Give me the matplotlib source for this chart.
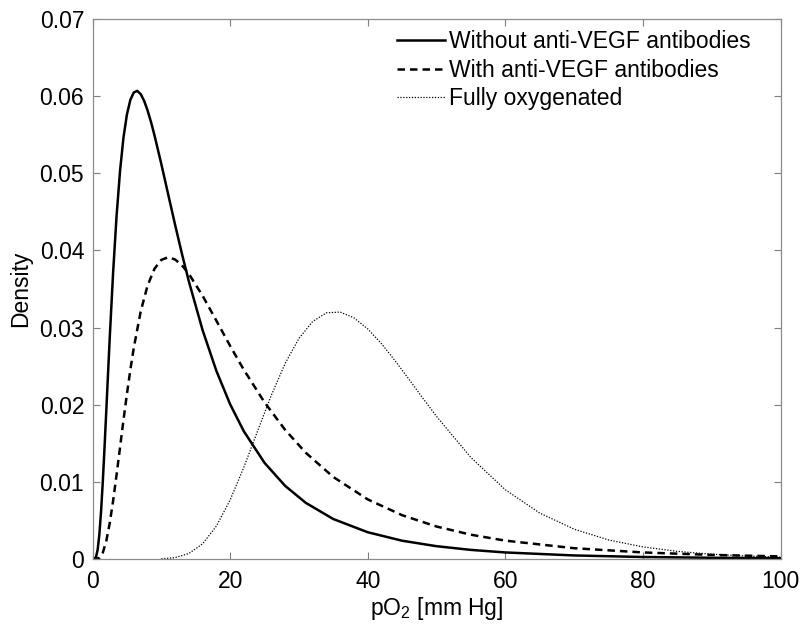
import matplotlib
matplotlib.use("Agg")
import matplotlib.pyplot as plt

plt.rcParams['font.family'] = ['Liberation Sans', 'DejaVu Sans']
plt.rcParams['mathtext.fontset'] = 'custom'
plt.rcParams['mathtext.rm'] = 'Liberation Sans'

# Without anti-VEGF antibodies (solid)
x_without = [0, 0.5, 0.75, 1, 1.25, 1.5, 1.75, 2, 2.5, 3, 3.5, 4, 4.5, 5, 5.5, 6, 6.5, 7,
             7.5, 8, 8.5, 9, 10, 11, 12, 13, 14, 16, 18, 20, 22, 25, 28, 31, 35, 40, 45,
             50, 55, 60, 70, 80, 90, 100]
y_without = [0, 0.0002, 0.00121, 0.00322, 0.00625, 0.01009, 0.01448, 0.01916, 0.02858,
             0.0372, 0.04449, 0.05028, 0.05461, 0.05761, 0.05951, 0.06048, 0.06068,
             0.06027, 0.0594, 0.05816, 0.05666, 0.05496, 0.05121, 0.04727, 0.04334,
             0.03956, 0.036, 0.02967, 0.0244, 0.02007, 0.01655, 0.01247, 0.00948,
             0.00728, 0.00518, 0.00347, 0.00237, 0.00166, 0.00118, 0.00085, 0.00046,
             0.00026, 0.00016, 0.0001]

# With anti-VEGF antibodies (dashed)
x_with = [0, 0.5, 1, 1.5, 2, 2.5, 3, 3.5, 4, 4.5, 5, 5.5, 6, 7, 8, 9, 10, 11, 12, 13,
          14, 16, 18, 20, 22, 25, 28, 31, 35, 40, 45, 50, 55, 60, 70, 80, 90, 100]
y_with = [0, 0.0, 0.000146, 0.000824, 0.00232, 0.004625, 0.00757, 0.01093, 0.01445,
          0.01799, 0.02137, 0.02451, 0.02737, 0.03207, 0.03544, 0.03761, 0.03877,
          0.03912, 0.03883, 0.03807, 0.03697, 0.03413, 0.0309, 0.02763, 0.02452,
          0.02031, 0.01674, 0.01377, 0.01063, 0.00773, 0.00568, 0.00421, 0.00315,
          0.00238, 0.0014, 0.00085, 0.00053, 0.00034]

# Fully oxygenated (dotted)
x_oxy = [10, 12, 14, 16, 18, 20, 22, 24, 26, 28, 30, 32, 34, 36, 38, 40, 42, 44, 46,
         48, 50, 55, 60, 65, 70, 75, 80, 85, 90, 95, 100]
y_oxy = [0.000026, 0.000178, 0.000708, 0.00197, 0.00426, 0.00764, 0.0119, 0.0166,
         0.02124, 0.02535, 0.02859, 0.03079, 0.03191, 0.03201, 0.03126, 0.02983,
         0.02791, 0.02568, 0.0233, 0.02086, 0.01849, 0.01316, 0.00898, 0.00596,
         0.00387, 0.00247, 0.00157, 0.00099, 0.00062, 0.00039, 0.00024]

labels = ['Without anti-VEGF antibodies', 'With anti-VEGF antibodies', 'Fully oxygenated']
x_ticks = [0, 20, 40, 60, 80, 100]
y_ticks = [0, 0.01, 0.02, 0.03, 0.04, 0.05, 0.06, 0.07]
y_ticklabels = ['0', '0.01', '0.02', '0.03', '0.04', '0.05', '0.06', '0.07']

W, H = 801, 628
fig = plt.figure(figsize=(W / 100, H / 100), dpi=100)
ax = fig.add_axes([92.5 / W, (H - 559) / H, (780.5 - 92.5) / W, (559 - 19) / H])

fs = 16.5
ax.plot(x_without, y_without, color='black', lw=1.8, ls='-', label=labels[0])
ax.plot(x_with, y_with, color='black', lw=1.8, ls=(0, (3, 2)), label=labels[1])
ax.plot(x_oxy, y_oxy, color='black', lw=0.9, ls=(0, (1, 1.3)), label=labels[2])

ax.set_xlim(0, 100)
ax.set_ylim(0, 0.07)
ax.set_xticks(x_ticks)
ax.set_xticklabels([str(t) for t in x_ticks])
ax.set_yticks(y_ticks)
ax.set_yticklabels(y_ticklabels)
ax.tick_params(direction='in', length=5, width=0.8, color='#7f7f7f',
               labelsize=fs, top=True, right=True)
ax.tick_params(axis='y', pad=6)
ax.tick_params(axis='x', pad=8)
for s in ax.spines.values():
    s.set_color('#8c8c8c')
    s.set_linewidth(0.9)

ax.set_xlabel(r'pO$_{2}$ [mm Hg]', fontsize=fs, labelpad=1)
ax.set_ylabel('Density', fontsize=fs, labelpad=5)

em = fs * 100 / 72
leg = ax.legend(loc='upper left', bbox_to_anchor=(397 / W, 1 - 30 / H),
                bbox_transform=fig.transFigure, frameon=False, fontsize=fs,
                handlelength=48 / em, handletextpad=4 / em, borderpad=0,
                borderaxespad=0, labelspacing=0.25)

fig.savefig('out.png', dpi=100)
